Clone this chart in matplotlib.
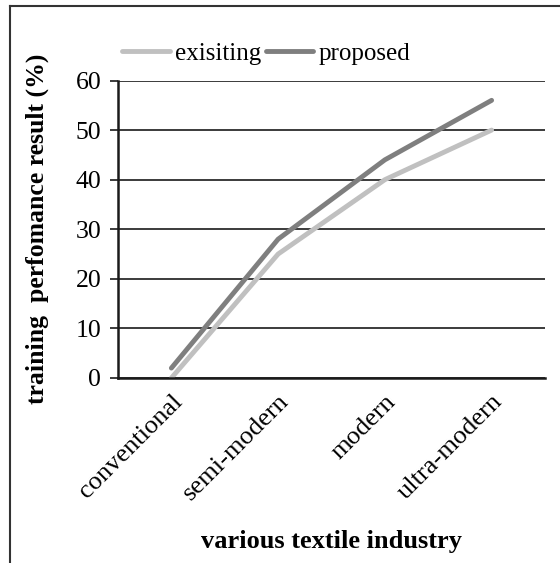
import numpy as np
import matplotlib.pyplot as plt

# categories and series
categories = ['conventional', 'semi-modern', 'modern', 'ultra-modern']
existing = [0, 25, 40, 50]
proposed = [2, 28, 44, 56]
yticks = [0, 10, 20, 30, 40, 50, 60]

plt.rcParams['font.family'] = ['Liberation Serif', 'DejaVu Serif']

fig = plt.figure(figsize=(5.6, 5.63), dpi=100)
ax = fig.add_axes([0.2107, 0.3286, 0.7625, 0.5284])

x = np.arange(len(categories))
ax.plot(x, existing, color='#c0c0c0', lw=3.5, solid_capstyle='round', label='exisiting')
ax.plot(x, proposed, color='#7f7f7f', lw=3.5, solid_capstyle='round', label='proposed')

ax.set_xlim(-0.5, 3.5)
ax.set_ylim(0, 60)
ax.set_yticks(yticks)
ax.yaxis.grid(True, color='#1a1a1a', lw=1.2)
ax.set_axisbelow(True)
for s in ['top', 'right']:
    ax.spines[s].set_visible(False)
for s in ['left', 'bottom']:
    ax.spines[s].set_linewidth(1.8)
    ax.spines[s].set_color('#1a1a1a')

ax.tick_params(axis='y', length=6, width=1.2, color='#1a1a1a', labelsize=18.5, pad=6)
ax.tick_params(axis='x', length=0, labelsize=19, pad=9)
ax.set_xticks(x)
ax.set_xticklabels(categories, rotation=45, ha='right', rotation_mode='anchor')

ax.set_xlabel('various textile industry', fontsize=19, fontweight='bold', labelpad=18)
ax.set_ylabel('training  perfomance result (%)', fontsize=18.5, fontweight='bold', labelpad=19)

fig.legend(loc='center left', bbox_to_anchor=(0.218, 0.905), ncol=2, frameon=False,
           fontsize=18, handlelength=1.9, handletextpad=0.2, columnspacing=0.2,
           borderpad=0, borderaxespad=0)

# outer frame (top and left edges visible)
fig.add_artist(plt.Line2D([10 / 560, 1], [1 - 6 / 563, 1 - 6 / 563], color='#333333', lw=1.5,
                          transform=fig.transFigure))
fig.add_artist(plt.Line2D([10 / 560, 10 / 560], [0, 1 - 6 / 563], color='#333333', lw=1.5,
                          transform=fig.transFigure))

fig.savefig('out.png', dpi=100)
